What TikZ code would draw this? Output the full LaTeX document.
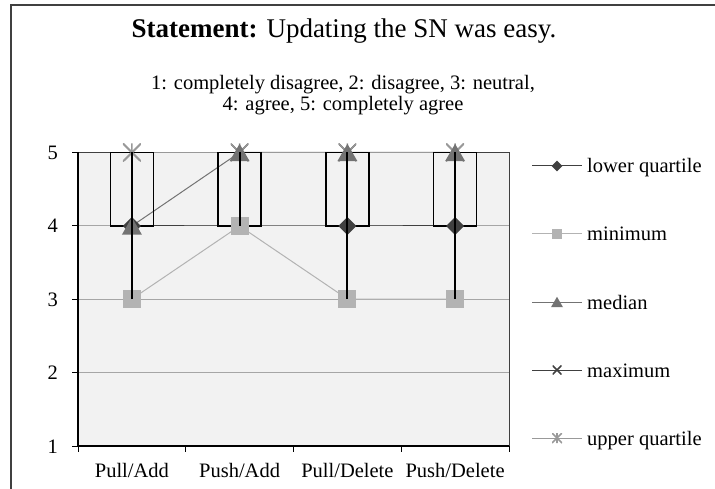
\documentclass[tikz,border=0pt]{standalone}
\usepackage{fontspec}
\setmainfont{Liberation Serif}
\usetikzlibrary{shapes.geometric}

\definecolor{cdark}{HTML}{404040}
\definecolor{cmin}{HTML}{B3B3B3}
\definecolor{cmed}{HTML}{737373}
\definecolor{cupq}{HTML}{999999}
\definecolor{cgrid}{HTML}{A6A6A6}
\definecolor{cplot}{HTML}{F2F2F2}

\newcommand\titlesize{\fontsize{27}{32}\selectfont}
\newcommand\textsize{\fontsize{20.5}{21}\selectfont}

\tikzset{
  lbl/.style={inner sep=0pt, font=\textsize},
  gridline/.style={draw=cgrid, line width=1pt},
  axisline/.style={draw=black, line width=1.5pt},
  plotframe/.style={draw=cdark, line width=0.9pt},
  framebox/.style={draw=cdark, line width=1.5pt},
  qbox/.style={draw=black, line width=1.6pt, minimum width=43pt, minimum height=73.5pt, inner sep=0pt},
  whisker/.style={draw=black, line width=2pt},
  lqline/.style={draw=cdark, line width=1pt},
  minline/.style={draw=cmin, line width=1pt},
  medline/.style={draw=cmed, line width=1pt},
  maxline/.style={draw=cdark, line width=1pt},
  upqline/.style={draw=cupq, line width=1pt},
  lqmark/.style={diamond, fill=cdark, inner sep=0pt, minimum width=#1, minimum height=#1},
  minmark/.style={rectangle, fill=cmin, inner sep=0pt, minimum size=#1},
  medmark/.style={regular polygon, regular polygon sides=3, fill=cmed, inner sep=0pt,
                  minimum size=#1*1.1547, yshift=-#1*0.1443},
  maxmark/.style={rectangle, inner sep=0pt, minimum size=#1,
    path picture={\draw[cdark, line width=1.6pt]
      (path picture bounding box.north west) -- (path picture bounding box.south east)
      (path picture bounding box.north east) -- (path picture bounding box.south west);}},
  upqmark/.style={rectangle, inner sep=0pt, minimum size=#1,
    path picture={\draw[cupq, line width=1.6pt]
      (path picture bounding box.north west) -- (path picture bounding box.south east)
      (path picture bounding box.north east) -- (path picture bounding box.south west)
      (path picture bounding box.north) -- (path picture bounding box.south);}},
}

\begin{document}
\begin{tikzpicture}[x=1pt, y=-1pt]
\useasboundingbox (0,0) rectangle (715,489);
\fill[white] (0,0) rectangle (715,489);

% outer chart frame (open at right and bottom)
\draw[framebox] (715,5) -- (11,5) -- (11,489);

% titles
\node[inner sep=0pt, anchor=base, font=\titlesize] (title) at (344,38)
  {\textbf{Statement:} Updating the SN was easy.};
\node[lbl, anchor=base] (sub1) at (343,90) {1: completely disagree, 2: disagree, 3: neutral,};
\node[lbl, anchor=base] (sub2) at (343,111) {4: agree, 5: completely agree};

% plot area
\fill[cplot] (78,152) rectangle (509,446);
\foreach \yy in {226,299,372} \draw[gridline] (78,\yy) -- (509,\yy);
\draw[plotframe] (78,152) -- (509,152) -- (509,446);

% value axis
\foreach \v/\yy in {5/152.5,4/226,3/299,2/372.5,1/446} {
  \draw[axisline, line width=1pt] (72,\yy) -- (78,\yy);
  \node[lbl, anchor=base east] (ylab\v) at (58,\yy+7) {\v};
}
% category axis
\foreach \xx in {78,185.75,293.5,401.25,509} \draw[axisline, line width=1pt] (\xx,446) -- (\xx,452);
\draw[axisline] (78,152) -- (78,446) -- (509,446);
\node[lbl, anchor=base] (xlab1) at (131.9,477) {Pull/Add};
\node[lbl, anchor=base] (xlab2) at (239.6,477) {Push/Add};
\node[lbl, anchor=base] (xlab3) at (347.4,477) {Pull/Delete};
\node[lbl, anchor=base] (xlab4) at (455.1,477) {Push/Delete};

% data points: lower quartile, minimum, median, maximum, upper quartile
\coordinate (lq1) at (131.9,226); \coordinate (lq2) at (239.6,226);
\coordinate (lq3) at (347.4,226); \coordinate (lq4) at (455.1,226);
\coordinate (mn1) at (131.9,299); \coordinate (mn2) at (239.6,226);
\coordinate (mn3) at (347.4,299); \coordinate (mn4) at (455.1,299);
\coordinate (md1) at (131.9,226); \coordinate (md2) at (239.6,152.5);
\coordinate (md3) at (347.4,152.5); \coordinate (md4) at (455.1,152.5);
\coordinate (mx1) at (131.9,152.5); \coordinate (mx2) at (239.6,152.5);
\coordinate (mx3) at (347.4,152.5); \coordinate (mx4) at (455.1,152.5);
\coordinate (uq1) at (131.9,152.5); \coordinate (uq2) at (239.6,152.5);
\coordinate (uq3) at (347.4,152.5); \coordinate (uq4) at (455.1,152.5);

% series lines
\draw[lqline] (lq1) -- (lq2) -- (lq3) -- (lq4);
\draw[minline] (mn1) -- (mn2) -- (mn3) -- (mn4);
\draw[medline] (md1) -- (md2) -- (md3) -- (md4);
\draw[maxline] (mx1) -- (mx2) -- (mx3) -- (mx4);
\draw[upqline] (uq1) -- (uq2) -- (uq3) -- (uq4);

% boxes from lower to upper quartile
\node[qbox] (box1) at (131.9,189.25) {};
\node[qbox] (box2) at (239.6,189.25) {};
\node[qbox] (box3) at (347.4,189.25) {};
\node[qbox] (box4) at (455.1,189.25) {};

% markers
\foreach \i in {1,...,4} {
  \node[lqmark=18pt] (lqm\i) at (lq\i) {};
  \node[minmark=18pt] (mnm\i) at (mn\i) {};
  \node[maxmark=17pt] (mxm\i) at (mx\i) {};
  \node[upqmark=18pt] (uqm\i) at (uq\i) {};
  \node[medmark=20pt] (mdm\i) at (md\i) {};
}

% high-low whiskers
\foreach \i in {1,...,4} \draw[whisker] (mn\i) -- (mx\i);

% legend
\foreach \i/\yy/\ls/\ms/\sz/\txt in {
  1/166/lqline/lqmark/11pt/lower quartile,
  2/234/minline/minmark/10pt/minimum,
  3/302/medline/medmark/12pt/median,
  4/370/maxline/maxmark/9pt/maximum,
  5/438/upqline/upqmark/10pt/upper quartile} {
  \coordinate (lega\i) at (532,\yy);
  \coordinate (legb\i) at (582,\yy);
  \draw[\ls] (lega\i) -- (legb\i);
  \node[\ms=\sz] (legm\i) at (557,\yy) {};
  \node[lbl, anchor=base west] (legt\i) at (587,\yy+7) {\txt};
}
\end{tikzpicture}
\end{document}
